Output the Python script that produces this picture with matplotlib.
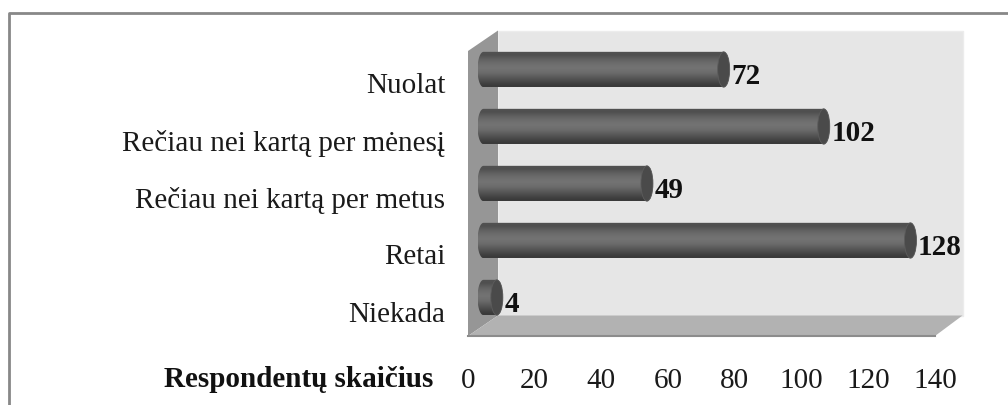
import numpy as np
import matplotlib
matplotlib.use('Agg')
import matplotlib.pyplot as plt
from matplotlib.patches import Polygon, Ellipse
from matplotlib.transforms import ScaledTranslation

categories = ['Niekada', 'Retai', 'Rečiau nei kartą per metus', 'Rečiau nei kartą per mėnesį', 'Nuolat']
values = [4, 128, 49, 102, 72]
xticks = [0, 20, 40, 60, 80, 100, 120, 140]

W, H = 1008, 406
plt.rcParams['font.family'] = ['Liberation Serif', 'DejaVu Serif']

fig = plt.figure(figsize=(W / 100, H / 100), dpi=100)

# frame of the chart, only left and top are inside the picture
fig.add_artist(plt.Line2D([9 / W, 9 / W, 1], [0, 1 - 14 / H, 1 - 14 / H], color='#888888', lw=2))

# axes = front plane of the 3d box
ax = fig.add_axes([468 / W, 1 - 337 / H, (935 - 468) / W, (337 - 52) / H])
ax.set_xlim(0, 140)
ax.set_ylim(-0.5, 4.5)
ax.patch.set_visible(False)
for s in ax.spines.values():
    s.set_visible(False)

px = 467 / 140
py = 285 / 5
dx0 = 30 / px
dx1 = 27.5 / px
dy = 20.5 / py

# back wall, side wall, floor
ax.add_patch(Polygon([(dx0, -0.5 + dy), (140 + dx1, -0.5 + dy), (140 + dx1, 4.5 + dy), (dx0, 4.5 + dy)],
                     fc='#e6e6e6', ec='#ececec', lw=1, clip_on=False, zorder=1))
ax.add_patch(Polygon([(0, -0.5), (dx0, -0.5 + dy), (dx0, 4.5 + dy), (0, 4.5)],
                     fc='#969696', ec='none', clip_on=False, zorder=2))
ax.add_patch(Polygon([(0, -0.5), (140, -0.5), (140 + dx1, -0.5 + dy), (dx0, -0.5 + dy)],
                     fc='#b2b2b2', ec='none', clip_on=False, zorder=2))
ax.plot([0, 140], [-0.5, -0.5], color='#8c8c8c', lw=1.5, clip_on=False, zorder=3)

# bars sit half way into the depth
off = ScaledTranslation(15.5 / 100, 10 / 100, fig.dpi_scale_trans)
tr = ax.transData + off
half_h = 0.31
rx = 6 / px
shade = np.array([0.32, 0.31, 0.35, 0.39, 0.42, 0.44, 0.45, 0.44, 0.42, 0.38, 0.34, 0.30, 0.26, 0.23]).reshape(-1, 1)

for i, v in enumerate(values):
    im = ax.imshow(shade, cmap='gray', vmin=0, vmax=1, aspect='auto', interpolation='bilinear',
                   extent=(-rx, v + rx, i - half_h, i + half_h), transform=tr, zorder=4)
    th = np.linspace(np.pi / 2, 3 * np.pi / 2, 30)
    left = np.c_[rx * np.cos(th), i + half_h * np.sin(th)]
    th = np.linspace(-np.pi / 2, np.pi / 2, 30)
    right = np.c_[v + rx * np.cos(th), i + half_h * np.sin(th)]
    clip = Polygon(np.r_[left, right], transform=tr, fc='none', ec='none')
    ax.add_patch(clip)
    im.set_clip_path(clip)
    ax.add_patch(Ellipse((v, i), 2 * rx, 2 * half_h, transform=tr, fc='#4a4a4a', ec='#5c5c5c', lw=0.6,
                         clip_on=False, zorder=5))
    ax.annotate(str(v), (v + rx, i), xycoords=tr, xytext=(1, -4), textcoords='offset points', ha='left',
                va='center', fontsize=21, fontweight='bold', color='#111111', zorder=6, annotation_clip=False)

ax.set_xlim(0, 140)
ax.set_ylim(-0.5, 4.5)

ax.set_yticks(range(5))
ax.set_yticklabels(categories)
ax.set_xticks(xticks)
ax.tick_params(length=0, labelsize=21, labelcolor='#1a1a1a')
ax.tick_params(axis='y', pad=16.5)
ax.tick_params(axis='x', pad=22.5)

# labels sit a little lower than the category centre
down = ScaledTranslation(0, -3 / 100, fig.dpi_scale_trans)
for lab in ax.get_yticklabels():
    lab.set_transform(lab.get_transform() + down)

fig.text(433 / W, 1 - 380 / H, 'Respondentų skaičius', ha='right', va='center', fontsize=21, fontweight='bold',
         color='#111111')

plt.savefig('out.png', dpi=100)
